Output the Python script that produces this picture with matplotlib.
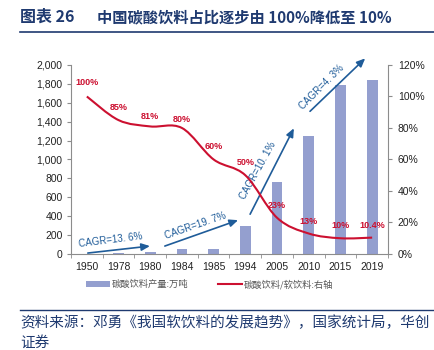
# -*- coding: utf-8 -*-

import matplotlib
matplotlib.use('Agg')
import matplotlib.pyplot as plt
import numpy as np
from matplotlib.path import Path
from matplotlib.patches import PathPatch, Patch
from matplotlib.lines import Line2D
from matplotlib.ticker import FuncFormatter

plt.rcParams['font.family'] = ['Liberation Sans', 'Noto Sans CJK SC', 'DejaVu Sans']

# 数据
years = ['1950', '1978', '1980', '1984', '1985', '1994', '2005', '2010', '2015', '2019']
output = [5, 15, 25, 50, 55, 295, 760, 1250, 1785, 1840]        # 碳酸饮料产量:万吨
share = [100, 85, 81, 80, 60, 50, 23, 13, 10, 10.4]              # 碳酸饮料/软饮料 (%)
share_labels = ['100%', '85%', '81%', '80%', '60%', '50%', '23%', '13%', '10%', '10.4%']
cagr_labels = ['CAGR=13. 6%', 'CAGR=19. 7%', 'CAGR=10. 1%', 'CAGR=4. 3%']

bar_color = '#949FCF'
line_color = '#CC1030'
arrow_color = '#1F5C99'
title_color = '#1F3A70'
axis_color = '#8C8C8C'
cjk = ['Noto Sans CJK SC', 'DejaVu Sans']

fig = plt.figure(figsize=(4.34, 3.5), dpi=100)
ax = fig.add_axes([0.1636, 0.2743, 0.7304, 0.5400])
x = np.arange(len(years))

ax.bar(x, output, width=0.34, color=bar_color, zorder=2)
ax.set_xlim(-0.5, len(years) - 0.5)
ax.set_ylim(0, 2000)
ax.set_yticks(np.arange(0, 2001, 200))
ax.yaxis.set_major_formatter(FuncFormatter(lambda v, p: f'{int(v):,}'))
ax.set_xticks(x)
ax.set_xticklabels(years)
ax.set_xticks(np.arange(-0.5, len(years), 1), minor=True)
ax.tick_params(axis='x', which='major', length=0, labelsize=7.5, pad=6, colors='#222222')
ax.tick_params(axis='x', which='minor', length=3, color=axis_color, direction='out')
ax.tick_params(axis='y', labelsize=7.5, length=3, color=axis_color, colors='#222222', pad=3)
ax.tick_params(axis='y', color=axis_color)
for s in ['top', 'right']:
    ax.spines[s].set_visible(False)
for s in ['left', 'bottom']:
    ax.spines[s].set_color(axis_color)
    ax.spines[s].set_linewidth(0.8)

# 右轴：占比曲线（平滑）
ax2 = ax.twinx()
ax2.set_ylim(0, 120)
ax2.set_yticks(np.arange(0, 121, 20))
ax2.yaxis.set_major_formatter(FuncFormatter(lambda v, p: f'{int(v)}%'))
ax2.tick_params(axis='y', labelsize=7.5, length=3, color=axis_color, colors='#222222', pad=4)
for s in ['top', 'left', 'bottom']:
    ax2.spines[s].set_visible(False)
ax2.spines['right'].set_color(axis_color)
ax2.spines['right'].set_linewidth(0.8)

pts = np.column_stack([x, share]).astype(float)
verts = [pts[0]]
codes = [Path.MOVETO]
n = len(pts)
for i in range(n - 1):
    p0 = pts[max(i - 1, 0)]
    p1 = pts[i]
    p2 = pts[i + 1]
    p3 = pts[min(i + 2, n - 1)]
    c1 = p1 + (p2 - p0) / 6.0
    c2 = p2 - (p3 - p1) / 6.0
    verts += [c1, c2, p2]
    codes += [Path.CURVE4] * 3
ax2.add_patch(PathPatch(Path(verts, codes), facecolor='none',
                        edgecolor=line_color, lw=1.5, zorder=3))
ax2.plot(x, share, alpha=0)

offsets = [10, 9, 7, 6, 9, 9, 9, 9, 9, 9]
for xi, yi, lab, off in zip(x, share, share_labels, offsets):
    ax2.annotate(lab, (xi, yi), xytext=(0, off), textcoords='offset points',
                 ha='center', va='center', fontsize=6.5, fontweight='bold',
                 color=line_color, zorder=4)

# CAGR 箭头与标注
arrows = [((0.03, 10), (1.99, 84)),
          ((2.46, 84), (4.77, 358)),
          ((5.15, 421), (6.53, 1330)),
          ((7.04, 1510), (8.78, 2070))]
texts = [((0.76, 150), 7), ((3.41, 300), 19), ((5.40, 884), 61), ((7.42, 1768), 45)]
for (start, end), ((tx, ty), rot), lab in zip(arrows, texts, cagr_labels):
    ax.annotate('', xy=end, xytext=start,
                arrowprops=dict(arrowstyle='-|>,head_length=0.5,head_width=0.22',
                                color=arrow_color, lw=1.2, shrinkA=0, shrinkB=0),
                annotation_clip=False, zorder=5)
    ax.text(tx, ty, lab, rotation=rot, ha='center', va='center', fontsize=7,
            color=arrow_color, rotation_mode='anchor', zorder=5)

# 图例
handles = [Patch(facecolor=bar_color, edgecolor='none'),
           Line2D([0], [0], color=line_color, lw=1.5)]
leg = fig.legend(handles, ['碳酸饮料产量:万吨', '碳酸饮料/软饮料:右轴'],
                 loc='center', bbox_to_anchor=(0.483, 0.188), ncol=2, frameon=False,
                 prop={'family': cjk, 'size': 6.7},
                 handlelength=2.6, handleheight=0.6, handletextpad=0.2,
                 columnspacing=3.2, labelcolor='#555555')

# 标题与来源
fig.text(20 / 434, 1 - 17 / 350, '图表 26', ha='left', va='center', fontsize=11.5,
         fontweight='bold', color=title_color, family=cjk)
fig.text(97 / 434, 1 - 17 / 350, '中国碳酸饮料占比逐步由 100%降低至 10%',
         ha='left', va='center', fontsize=11, fontweight='bold', color=title_color,
         family=cjk)
fig.add_artist(Line2D([20 / 434, 1.0], [1 - 31.5 / 350] * 2, color=title_color, lw=1.2))
fig.add_artist(Line2D([20 / 434, 1.0], [1 - 310 / 350] * 2, color=title_color, lw=1.0))
fig.text(20 / 434, 1 - 323 / 350, '资料来源：邓勇《我国软饮料的发展趋势》，国家统计局，华创',
         ha='left', va='center', fontsize=10.5, color=title_color, family=cjk)
fig.text(20 / 434, 1 - 343 / 350, '证券',
         ha='left', va='center', fontsize=10.5, color=title_color, family=cjk)

fig.savefig('out.png', dpi=100)
